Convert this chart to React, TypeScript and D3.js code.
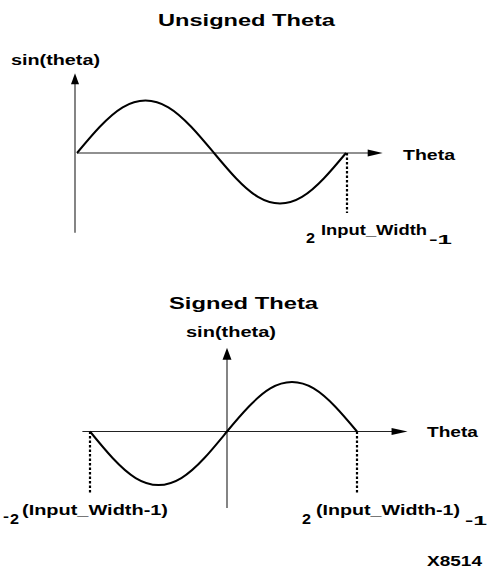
import React, { useEffect, useRef } from 'react';
import * as d3 from 'd3';

const unsignedTheta = [0, 30, 60, 90, 120, 150, 180, 210, 240, 270, 300, 330, 360];
const unsignedSin = [0, 0.5, 0.87, 1, 0.87, 0.5, 0, -0.5, -0.87, -1, -0.87, -0.5, 0];
const signedTheta = [-180, -150, -120, -90, -60, -30, 0, 30, 60, 90, 120, 150, 180];
const signedSin = [0, -0.5, -0.87, -1, -0.87, -0.5, 0, 0.5, 0.87, 1, 0.87, 0.5, 0];

// axis extents in data units
const unsignedAxisTheta = [0, 410];
const unsignedAxisSin = [-1.58, 1.52];
const signedAxisTheta = [-190, 250];
const signedAxisSin = [-1.43, 1.69];

const FONT = '"Liberation Sans", Arial, sans-serif';

const App = () => {
  const chartRef = useRef<HTMLDivElement>(null);

  useEffect(() => {
    d3.select(chartRef.current).selectAll('*').remove();

    const svg = d3
      .select(chartRef.current)
      .append('svg')
      .attr('width', 489)
      .attr('height', 569)
      .style('position', 'absolute')
      .style('left', 0)
      .style('top', 0)
      .style('background', '#fff');

    // text helper, widths forced to match the stretched lettering
    const label = (txt: string, x: number, y: number, size: number, len?: number) => {
      const t = svg
        .append('text')
        .text(txt)
        .attr('x', x)
        .attr('y', y)
        .attr('font-family', FONT)
        .attr('font-weight', 'bold')
        .attr('font-size', size)
        .attr('fill', '#000');
      if (len) t.attr('textLength', len).attr('lengthAdjust', 'spacingAndGlyphs');
      return t;
    };

    const arrow = (pts: [number, number][]) =>
      svg.append('path').attr('d', 'M' + pts.map((p) => p.join(',')).join('L') + 'Z').attr('fill', '#000');

    const dotted = (x: number, yA: number, yB: number) =>
      svg
        .append('line')
        .attr('x1', x)
        .attr('x2', x)
        .attr('y1', yA)
        .attr('y2', yB)
        .attr('stroke', '#000')
        .attr('stroke-width', 2.2)
        .attr('stroke-dasharray', '2.5,2');

    // ---------- Unsigned Theta ----------
    const x1 = d3.scaleLinear().domain([0, 180, 360]).range([77, 214, 346]);
    const y1 = d3.scaleLinear().domain([-1, 0, 1]).range([203.5, 153, 100.5]);

    label('Unsigned Theta', 158, 26, 17, 177);
    label('sin(theta)', 11, 65, 14, 89);
    label('Theta', 403, 160, 15, 52);
    label('2', 306, 243, 14, 9);
    label('Input_Width', 321, 235, 14, 106);
    label('-1', 429, 244, 13, 23);

    // y axis
    svg
      .append('line')
      .attr('x1', x1(0) - 2)
      .attr('x2', x1(0) - 2)
      .attr('y1', y1(unsignedAxisSin[0]))
      .attr('y2', y1(unsignedAxisSin[1]) + 10)
      .attr('stroke', '#333')
      .attr('stroke-width', 1.2);
    arrow([
      [x1(0) - 2, y1(unsignedAxisSin[1])],
      [x1(0) - 6, y1(unsignedAxisSin[1]) + 11],
      [x1(0) + 2, y1(unsignedAxisSin[1]) + 11],
    ]);

    // x axis
    const xEnd1 = x1(unsignedAxisTheta[1]);
    svg
      .append('line')
      .attr('x1', x1(unsignedAxisTheta[0]))
      .attr('x2', xEnd1 - 12)
      .attr('y1', y1(0))
      .attr('y2', y1(0))
      .attr('stroke', '#222')
      .attr('stroke-width', 1.2);
    arrow([
      [xEnd1, y1(0)],
      [xEnd1 - 15, y1(0) - 3.5],
      [xEnd1 - 15, y1(0) + 3.5],
    ]);

    // dotted marker at the end of the period
    dotted(x1(360) + 1, y1(0), 213);

    const line1 = d3
      .line<number>()
      .x((d, i) => x1(unsignedTheta[i]))
      .y((d) => y1(d))
      .curve(d3.curveNatural);
    svg
      .append('path')
      .attr('d', line1(unsignedSin))
      .attr('fill', 'none')
      .attr('stroke', '#000')
      .attr('stroke-width', 2);

    // ---------- Signed Theta ----------
    const x2 = d3.scaleLinear().domain([-180, 0, 180]).range([90, 227, 357]);
    const y2 = d3.scaleLinear().domain([-1, 0, 1]).range([485, 431.5, 382]);

    label('Signed Theta', 169, 309, 17, 149);
    label('sin(theta)', 186, 337, 14, 90);
    label('Theta', 427, 437, 15, 51);
    label('-', 3, 521, 12, 6);
    label('2', 10, 524, 14, 9);
    label('(Input_Width-1)', 22, 515, 14, 146);
    label('2', 302, 524, 14, 9);
    label('(Input_Width-1)', 316, 515, 14, 144);
    label('-1', 465, 525, 13, 22);
    label('X8514', 427, 566, 15, 55);

    // y axis
    svg
      .append('line')
      .attr('x1', x2(0))
      .attr('x2', x2(0))
      .attr('y1', y2(signedAxisSin[0]))
      .attr('y2', y2(signedAxisSin[1]) + 10)
      .attr('stroke', '#333')
      .attr('stroke-width', 1.2);
    arrow([
      [x2(0), y2(signedAxisSin[1])],
      [x2(0) - 4.5, y2(signedAxisSin[1]) + 12],
      [x2(0) + 4.5, y2(signedAxisSin[1]) + 12],
    ]);

    // x axis
    const xEnd2 = x2(signedAxisTheta[1]);
    svg
      .append('line')
      .attr('x1', x2(signedAxisTheta[0]))
      .attr('x2', xEnd2 - 12)
      .attr('y1', y2(0))
      .attr('y2', y2(0))
      .attr('stroke', '#222')
      .attr('stroke-width', 1.2);
    arrow([
      [xEnd2, y2(0)],
      [xEnd2 - 16, y2(0) - 3.5],
      [xEnd2 - 16, y2(0) + 3.5],
    ]);

    // dotted markers at both ends
    [-180, 180].forEach((t) => dotted(x2(t), y2(0), 493));

    const line2 = d3
      .line<number>()
      .x((d, i) => x2(signedTheta[i]))
      .y((d) => y2(d))
      .curve(d3.curveNatural);
    svg
      .append('path')
      .attr('d', line2(signedSin))
      .attr('fill', 'none')
      .attr('stroke', '#000')
      .attr('stroke-width', 2);
  }, []);

  return <div ref={chartRef} id="sine-chart"></div>;
};

export default App;
